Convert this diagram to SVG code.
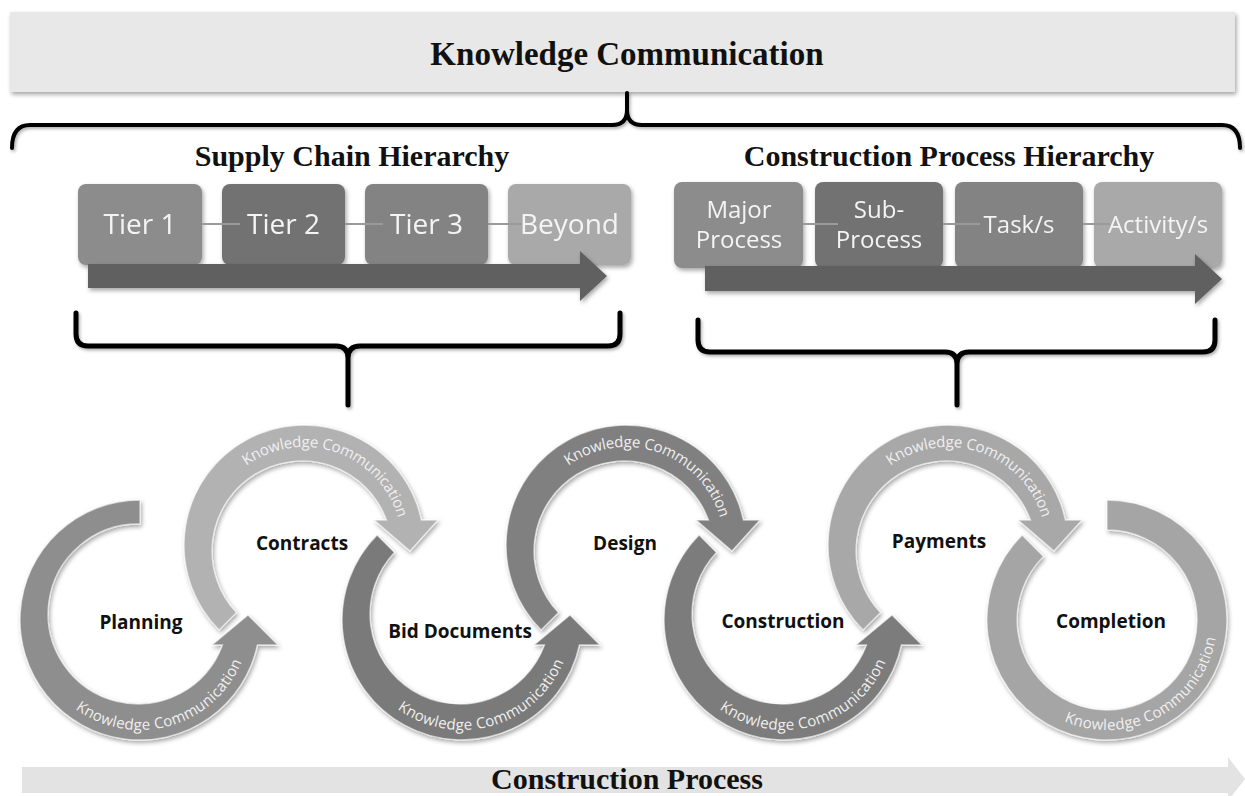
<svg xmlns="http://www.w3.org/2000/svg" width="1245" height="796" viewBox="0 0 1245 796">
<defs>
  <filter id="sh" x="-10%" y="-10%" width="125%" height="130%">
    <feDropShadow dx="1.5" dy="2.5" stdDeviation="2" flood-color="#000" flood-opacity="0.35"/>
  </filter>
  <filter id="bsh" x="-5%" y="-20%" width="110%" height="160%">
    <feDropShadow dx="1.5" dy="2" stdDeviation="1.5" flood-color="#000" flood-opacity="0.3"/>
  </filter>
  <path id="tpPlanning" d="M 75.3,709 A 110 110 0 0 0 248.9,604.7"/>
  <path id="tpBid" d="M 397.3,709 A 110 110 0 0 0 570.9,604.7"/>
  <path id="tpConstruction" d="M 719.3,709 A 110 110 0 0 0 892.9,604.7"/>
  <path id="tpCompletion" d="M 1064,721.3 A 110 110 0 0 0 1210.4,582.4"/>
  <path id="tpContracts" d="M 246.4,465.7 A 98 98 0 0 1 401,558.6"/>
  <path id="tpDesign" d="M 568.4,465.7 A 98 98 0 0 1 723,558.6"/>
  <path id="tpPayments" d="M 890.4,465.7 A 98 98 0 0 1 1045,558.6"/>
</defs>
<style>
  .serif { font-family: "Liberation Serif", "Times New Roman", serif; font-weight: bold; fill: #111; text-anchor: middle; }
  .boxtxt { font-family: "Open Sans", "Liberation Sans", sans-serif; fill: #f4f4f4; text-anchor: middle; }
  .band { stroke: #ffffff; stroke-opacity: 0.6; stroke-width: 1.3; }
  .kc { font-family: "Open Sans", "Liberation Sans", sans-serif; font-size: 15px; fill: #f0f0f0; }
  .kcl { letter-spacing: 0.3px; }
  .kch { letter-spacing: -0.2px; }
  .lbl { font-family: "Open Sans", "Liberation Sans", sans-serif; font-weight: bold; font-size: 19px; fill: #111; text-anchor: middle; }
  .brace { fill: none; stroke: #000; stroke-linecap: round; stroke-linejoin: round; }
  .conn { stroke: #9a9a9a; stroke-width: 2; }
</style>

<!-- Top header -->
<g id="header">
  <rect x="10" y="12" width="1225" height="80" fill="#e8e8e8" filter="url(#sh)"/>
  <text class="serif" x="627" y="65" font-size="33">Knowledge Communication</text>
</g>

<!-- Braces -->
<g id="braces" filter="url(#bsh)">
  <path class="brace" stroke-width="4" d="M 12,148 Q 12,125 30,125 L 612,125 Q 627,125 627,110 L 627,93 M 627,110 Q 627,125 642,125 L 1222,125 Q 1240,125 1240,148"/>
  <path class="brace" stroke-width="5" d="M 76,313 V 334 Q 76,346 88,346 H 336 Q 348,346 348,358 V 405 M 348,358 Q 348,346 360,346 H 608 Q 620,346 620,334 V 313"/>
  <path class="brace" stroke-width="5" d="M 698,320 V 340 Q 698,352 710,352 H 945 Q 957,352 957,364 V 405 M 957,364 Q 957,352 969,352 H 1203 Q 1215,352 1215,340 V 320"/>
</g>

<text class="serif" x="352" y="166" font-size="30">Supply Chain Hierarchy</text>
<text class="serif" x="949" y="166" font-size="30">Construction Process Hierarchy</text>

<!-- Supply chain boxes -->
<g id="tier1" filter="url(#sh)"><rect x="78" y="184" width="124" height="81" rx="8" fill="#8c8c8c"/><text class="boxtxt" x="140" y="234" font-size="28">Tier 1</text></g>
<g id="tier2" filter="url(#sh)"><rect x="222" y="184" width="123" height="81" rx="8" fill="#727272"/><text class="boxtxt" x="283.5" y="234" font-size="28">Tier 2</text></g>
<g id="tier3" filter="url(#sh)"><rect x="365" y="184" width="123" height="81" rx="8" fill="#838383"/><text class="boxtxt" x="426.5" y="234" font-size="28">Tier 3</text></g>
<g id="beyond" filter="url(#sh)"><rect x="508" y="184" width="123" height="81" rx="8" fill="#a9a9a9"/><text class="boxtxt" x="569.5" y="234" font-size="28">Beyond</text></g>

<!-- Construction process boxes -->
<g id="major" filter="url(#sh)"><rect x="674" y="182" width="129" height="86" rx="8" fill="#8c8c8c"/><text class="boxtxt" x="739" y="218" font-size="24">Major</text><text class="boxtxt" x="739" y="248" font-size="24">Process</text></g>
<g id="sub" filter="url(#sh)"><rect x="815" y="182" width="128" height="86" rx="8" fill="#727272"/><text class="boxtxt" x="879" y="218" font-size="24">Sub-</text><text class="boxtxt" x="879" y="248" font-size="24">Process</text></g>
<g id="task" filter="url(#sh)"><rect x="955" y="182" width="128" height="86" rx="8" fill="#838383"/><text class="boxtxt" x="1019" y="233" font-size="24">Task/s</text></g>
<g id="activity" filter="url(#sh)"><rect x="1094" y="182" width="128" height="86" rx="8" fill="#a9a9a9"/><text class="boxtxt" x="1158" y="233" font-size="24">Activity/s</text></g>

<!-- Connectors -->
<g id="connectors">
  <line class="conn" x1="202" y1="224" x2="240" y2="224"/>
  <line class="conn" x1="345" y1="224" x2="383" y2="224"/>
  <line class="conn" x1="488" y1="224" x2="522" y2="224"/>
  <line class="conn" x1="803" y1="224" x2="838" y2="224"/>
  <line class="conn" x1="943" y1="224" x2="980" y2="224"/>
  <line class="conn" x1="1083" y1="224" x2="1110" y2="224"/>
</g>

<!-- Hierarchy arrows -->
<g id="arrows" filter="url(#sh)">
  <polygon points="88,264 580,264 580,251 607,276 580,301 580,288 88,288" fill="#606060"/>
  <polygon points="705,266 1195,266 1195,254 1222,279 1195,304 1195,291 705,291" fill="#606060"/>
</g>

<!-- Rings -->
<g id="planning">
  <path class="band" filter="url(#sh)" fill="#8e8e8e" d="M 140,500 A 120 120 0 1 0 257.4,645 L 278,645 L 248,615 L 212,645 L 222.5,645 A 90 90 0 1 1 140,524 Z"/>
  <text class="kc kcl"><textPath href="#tpPlanning">Knowledge Communication</textPath></text>
  <text class="lbl" x="141" y="629">Planning</text>
</g>
<g id="contracts">
  <path class="band" filter="url(#sh)" fill="#b2b2b2" d="M 219.1,629.9 A 120 120 0 1 1 421.4,520 L 438,520 L 410,551 L 374,520 L 386.5,520 A 90 90 0 1 0 236.4,612.6 Z"/>
  <text class="kc kch"><textPath href="#tpContracts">Knowledge Communication</textPath></text>
  <text class="lbl" x="302" y="550">Contracts</text>
</g>
<g id="bid">
  <path class="band" filter="url(#sh)" fill="#7a7a7a" d="M 377.1,535.1 A 120 120 0 1 0 579.4,645 L 600,645 L 570,615 L 534,645 L 544.5,645 A 90 90 0 1 1 394.4,552.4 Z"/>
  <text class="kc kcl"><textPath href="#tpBid">Knowledge Communication</textPath></text>
  <text class="lbl" x="460" y="638">Bid Documents</text>
</g>
<g id="design">
  <path class="band" filter="url(#sh)" fill="#808080" d="M 541.1,629.9 A 120 120 0 1 1 743.4,520 L 760,520 L 732,551 L 696,520 L 708.5,520 A 90 90 0 1 0 558.4,612.6 Z"/>
  <text class="kc kch"><textPath href="#tpDesign">Knowledge Communication</textPath></text>
  <text class="lbl" x="625" y="550">Design</text>
</g>
<g id="construction">
  <path class="band" filter="url(#sh)" fill="#7b7b7b" d="M 699.1,535.1 A 120 120 0 1 0 901.4,645 L 922,645 L 892,615 L 856,645 L 866.5,645 A 90 90 0 1 1 716.4,552.4 Z"/>
  <text class="kc kcl"><textPath href="#tpConstruction">Knowledge Communication</textPath></text>
  <text class="lbl" x="783" y="628">Construction</text>
</g>
<g id="payments">
  <path class="band" filter="url(#sh)" fill="#a8a8a8" d="M 863.1,629.9 A 120 120 0 1 1 1065.4,520 L 1082,520 L 1054,551 L 1018,520 L 1030.5,520 A 90 90 0 1 0 880.4,612.6 Z"/>
  <text class="kc kch"><textPath href="#tpPayments">Knowledge Communication</textPath></text>
  <text class="lbl" x="939" y="548">Payments</text>
</g>
<g id="completion">
  <path class="band" filter="url(#sh)" fill="#a5a5a5" d="M 1107,500 A 120 120 0 1 1 1022.1,535.1 L 1043.4,556.4 A 90 90 0 1 0 1107,530 Z"/>
  <text class="kc kcl"><textPath href="#tpCompletion">Knowledge Communication</textPath></text>
  <text class="lbl" x="1111" y="628">Completion</text>
</g>

<!-- Bottom process arrow -->
<g id="process">
  <polygon points="22,767 1228,767 1228,757 1245,779 1228,801 1228,793 22,793" fill="#e3e3e3"/>
  <text class="serif" x="627" y="789" font-size="30">Construction Process</text>
</g>
</svg>
